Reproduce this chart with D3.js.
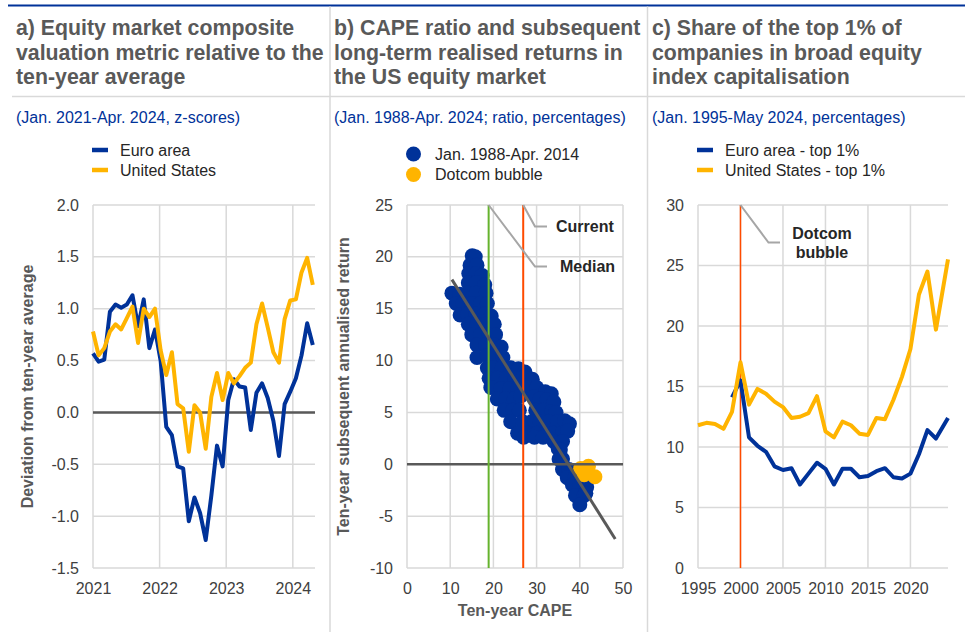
<!DOCTYPE html>
<html>
<head>
<meta charset="utf-8">
<script src="https://cdn.jsdelivr.net/npm/d3@7"></script>
<style>
  body { margin: 0; background: #fff; }
  text { font-family: "Liberation Sans", Arial, sans-serif; }
</style>
</head>
<body>
<script>
(function (d3) {
  "use strict";

  /***** Data *****/
  // panel a: monthly z-scores, Jan. 2021 - Apr. 2024
  var euroZ = [0.57, 0.49, 0.51, 0.97, 1.04, 1.01, 1.04, 1.13, 0.83, 1.09, 0.62, 0.80, 0.50, -0.14, -0.22, -0.52,
    -0.54, -1.05, -0.82, -0.97, -1.23, -0.80, -0.32, -0.52, 0.12, 0.32, 0.25, 0.24, -0.17, 0.19, 0.28, 0.14,
    -0.08, -0.42, 0.08, 0.20, 0.33, 0.55, 0.86, 0.65];
  var usZ = [0.78, 0.55, 0.62, 0.78, 0.85, 0.80, 0.91, 1.02, 0.67, 1.00, 0.92, 1.00, 0.60, 0.36, 0.58, 0.08,
    0.04, -0.38, 0.07, 0.00, -0.35, 0.15, 0.38, 0.12, 0.38, 0.28, 0.35, 0.43, 0.48, 0.85, 1.05, 0.82,
    0.58, 0.48, 0.90, 1.08, 1.09, 1.35, 1.49, 1.23];
  var zStart = 2021, zEnd = 2024.3;
  var yearTicksA = [2021, 2022, 2023, 2024];

  // panel b: [CAPE, subsequent 10y return]
  var capeHistory = [
    [15.1, 20.1], [15.8, 20.0],
    [14.6, 19.2], [16.2, 19.2],
    [14.3, 18.4], [16.0, 18.4], [17.4, 18.2],
    [14.2, 17.5], [16.0, 17.5], [18.0, 17.3],
    [10.4, 16.5], [12.2, 16.4], [14.0, 16.5], [16.0, 16.5], [18.3, 16.5],
    [11.4, 15.5], [13.0, 15.5], [15.0, 15.5], [17.0, 15.5], [18.6, 15.5],
    [12.3, 14.4], [14.0, 14.5], [16.0, 14.5], [18.0, 14.5], [19.5, 14.3],
    [14.2, 13.5], [16.2, 13.5], [18.2, 13.5], [20.2, 13.5],
    [15.0, 12.5], [17.0, 12.5], [19.0, 12.5], [20.5, 12.5],
    [16.2, 11.5], [18.2, 11.5], [20.2, 11.5], [21.8, 11.3],
    [16.2, 10.3], [18.5, 10.5], [20.5, 10.5], [22.2, 10.3],
    [18.6, 9.3], [20.0, 9.3], [22.0, 9.3], [24.0, 9.3], [25.8, 9.2], [27.3, 8.9],
    [19.0, 8.3], [21.0, 8.3], [23.0, 8.3], [25.0, 8.3], [27.0, 8.4], [29.0, 8.2],
    [19.4, 7.4], [21.8, 7.3], [23.8, 7.3], [25.6, 7.3], [28.0, 7.4], [30.0, 7.4], [32.0, 7.0], [33.4, 6.8],
    [20.9, 6.3], [22.8, 6.3], [24.8, 6.3], [26.3, 6.6], [29.4, 6.5], [30.8, 6.3], [32.4, 6.2], [34.0, 6.0],
    [22.5, 5.2], [24.5, 5.2], [26.0, 5.2], [29.8, 5.2], [31.5, 5.2], [33.5, 5.1], [34.5, 5.0],
    [24.0, 4.1], [26.8, 4.1], [28.8, 4.1], [30.8, 4.1], [32.8, 4.1], [34.8, 4.1], [36.5, 4.2], [37.6, 3.9],
    [25.6, 3.0], [28.0, 3.0], [30.0, 3.0], [32.0, 3.0], [34.0, 3.0], [36.0, 3.0], [37.2, 3.2],
    [27.0, 2.6], [29.5, 2.6], [31.5, 2.6], [34.0, 2.2], [36.0, 2.2],
    [35.0, 1.5], [35.5, 1.4],
    [35.2, 0.5], [36.0, 0.5],
    [36.0, -0.5], [37.5, -0.5], [39.0, -0.6],
    [37.1, -1.3], [38.8, -1.3],
    [38.3, -2.0], [40.0, -2.0], [41.6, -2.2],
    [39.0, -3.0], [41.0, -3.0], [41.4, -2.8],
    [40.0, -3.9]
  ];
  var capeDotcom = [[40.2, -0.4], [41.3, -0.4], [42.0, -0.2], [43.5, -1.2], [41.0, -1.0]];
  var capeFit = [[10.4, 17.8], [48.2, -7.2]];
  var capeMedian = 18.9;
  var capeCurrent = 26.9;

  // panel c: annual shares, 1995 - May 2024
  var yearsC = [1995, 1996, 1997, 1998, 1999, 2000, 2001, 2002, 2003, 2004, 2005, 2006, 2007, 2008, 2009,
    2010, 2011, 2012, 2013, 2014, 2015, 2016, 2017, 2018, 2019, 2020, 2021, 2022, 2023, 2024.42];
  var usTop = [11.8, 12.0, 11.9, 11.5, 12.9, 17.0, 13.5, 14.8, 14.4, 13.75, 13.3, 12.4, 12.5, 12.8, 14.2,
    11.3, 10.8, 12.1, 11.8, 11.1, 11.0, 12.4, 12.3, 13.9, 15.8, 18.1, 22.6, 24.5, 19.7, 25.5];
  var euroTop = [null, null, null, null, 14.1, 15.5, 10.8, 10.1, 9.6, 8.4, 8.1, 8.25, 6.9, 7.8, 8.7,
    8.2, 6.9, 8.2, 8.2, 7.5, 7.6, 8.0, 8.25, 7.5, 7.4, 7.8, 9.4, 11.4, 10.7, 12.4];
  var dotcomYear = 2000;

  /***** Styling *****/
  var BLUE = "#003299", YELLOW = "#ffb400", GRID = "#d9d9d9", DARK = "#595959";
  var TICK = "#404040", LEADER = "#a6a6a6";
  var top = 205, bottom = 568;

  var svg = d3.select("body").append("svg")
    .attr("width", 965)
    .attr("height", 641);

  // frame
  svg.append("line").attr("x1", 8).attr("x2", 965).attr("y1", 5.5).attr("y2", 5.5)
    .attr("stroke", BLUE).attr("stroke-width", 2);
  svg.append("line").attr("x1", 12).attr("x2", 965).attr("y1", 96.5).attr("y2", 96.5)
    .attr("stroke", GRID).attr("stroke-width", 1.5);
  [330, 647.5].forEach(function (x) {
    svg.append("line").attr("x1", x).attr("x2", x).attr("y1", 6.5).attr("y2", 632)
      .attr("stroke", GRID).attr("stroke-width", 1.5);
  });

  function header(x, lines, sub) {
    var t = svg.append("text").attr("x", x).attr("y", 35)
      .attr("fill", DARK).attr("font-weight", "bold").attr("font-size", "21.3px");
    lines.forEach(function (l, i) {
      t.append("tspan").attr("x", x).attr("y", 35 + i * 24.5).text(l);
    });
    svg.append("text").attr("x", x).attr("y", 123).attr("fill", BLUE)
      .attr("font-size", "16px").text(sub);
  }
  header(16, ["a) Equity market composite", "valuation metric relative to the", "ten-year average"],
    "(Jan. 2021-Apr. 2024, z-scores)");
  header(334, ["b) CAPE ratio and subsequent", "long-term realised returns in", "the US equity market"],
    "(Jan. 1988-Apr. 2024; ratio, percentages)");
  header(652, ["c) Share of the top 1% of", "companies in broad equity", "index capitalisation"],
    "(Jan. 1995-May 2024, percentages)");

  function lineLegend(x, y, items) {
    items.forEach(function (it, i) {
      svg.append("line").attr("x1", x).attr("x2", x + 16)
        .attr("y1", y + i * 20).attr("y2", y + i * 20)
        .attr("stroke", it.color).attr("stroke-width", 4.5);
      svg.append("text").attr("x", x + 28).attr("y", y + i * 20 + 5.5)
        .attr("font-size", "16px").attr("fill", "#262626").text(it.label);
    });
  }

  function grid(g, x, y, xs, ys) {
    g.selectAll("line.h").data(ys).join("line").attr("class", "h")
      .attr("x1", x.range()[0]).attr("x2", x.range()[1])
      .attr("y1", function (d) { return y(d); }).attr("y2", function (d) { return y(d); })
      .attr("stroke", GRID).attr("stroke-width", 1.5);
    g.selectAll("line.v").data(xs).join("line").attr("class", "v")
      .attr("x1", function (d) { return x(d); }).attr("x2", function (d) { return x(d); })
      .attr("y1", top).attr("y2", bottom)
      .attr("stroke", GRID).attr("stroke-width", 1.5);
  }

  function axes(x, y, xs, ys, fmtY) {
    var xa = d3.axisBottom(x).tickValues(xs).tickSize(0).tickPadding(0).tickFormat(d3.format("d"));
    var ya = d3.axisLeft(y).tickValues(ys).tickSize(0).tickPadding(14).tickFormat(fmtY);
    var gx = svg.append("g").attr("transform", "translate(0," + (bottom + 20) + ")").call(xa);
    var gy = svg.append("g").attr("transform", "translate(" + x.range()[0] + ",0)").call(ya);
    [gx, gy].forEach(function (g) {
      g.select(".domain").remove();
      g.selectAll("text").attr("font-size", "16px").attr("fill", TICK)
        .style("font-family", '"Liberation Sans", Arial, sans-serif');
    });
    gx.selectAll("text").attr("dy", "0.35em");
  }

  function yTitle(x, label) {
    svg.append("text")
      .attr("transform", "translate(" + x + "," + ((top + bottom) / 2) + ") rotate(-90)")
      .attr("text-anchor", "middle").attr("font-size", "16px").attr("font-weight", "bold")
      .attr("fill", DARK).text(label);
  }

  /***** Panel a *****/
  var xA = d3.scaleLinear().domain([zStart, 2024.333]).range([93, 315]);
  var yA = d3.scaleLinear().domain([-1.5, 2]).range([bottom, top]);
  var ticksA = d3.range(-1.5, 2.01, 0.5);
  var gA = svg.append("g");
  grid(gA, xA, yA, yearTicksA, ticksA);
  gA.append("line").attr("x1", 93).attr("x2", 315).attr("y1", yA(0)).attr("y2", yA(0))
    .attr("stroke", DARK).attr("stroke-width", 2.5);
  var tA = function (i) { return zStart + i * (zEnd - zStart) / (euroZ.length - 1); };
  var lineA = d3.line().x(function (d, i) { return xA(tA(i)); }).y(function (d) { return yA(d); });
  [[euroZ, BLUE], [usZ, YELLOW]].forEach(function (s) {
    gA.append("path").datum(s[0]).attr("d", lineA).attr("fill", "none")
      .attr("stroke", s[1]).attr("stroke-width", 4).attr("stroke-linejoin", "round");
  });
  axes(xA, yA, yearTicksA, ticksA, function (d) { return d.toFixed(1); });
  yTitle(33, "Deviation from ten-year average");
  lineLegend(92, 150, [{ label: "Euro area", color: BLUE }, { label: "United States", color: YELLOW }]);

  /***** Panel b *****/
  var xB = d3.scaleLinear().domain([0, 50]).range([407, 623]);
  var yB = d3.scaleLinear().domain([-10, 25]).range([bottom, top]);
  var gB = svg.append("g");
  grid(gB, xB, yB, d3.range(0, 51, 10), d3.range(-10, 26, 5));
  gB.selectAll("circle.hist").data(capeHistory).join("circle").attr("class", "hist")
    .attr("cx", function (d) { return xB(d[0]); }).attr("cy", function (d) { return yB(d[1]); })
    .attr("r", 7.5).attr("fill", BLUE);
  gB.selectAll("circle.dot").data(capeDotcom).join("circle").attr("class", "dot")
    .attr("cx", function (d) { return xB(d[0]); }).attr("cy", function (d) { return yB(d[1]); })
    .attr("r", 7.5).attr("fill", YELLOW);
  gB.append("line").attr("x1", 407).attr("x2", 623).attr("y1", yB(0)).attr("y2", yB(0))
    .attr("stroke", DARK).attr("stroke-width", 2.5);
  gB.append("line").attr("x1", xB(capeMedian)).attr("x2", xB(capeMedian)).attr("y1", top).attr("y2", bottom)
    .attr("stroke", "#65b32e").attr("stroke-width", 2);
  gB.append("line").attr("x1", xB(capeCurrent)).attr("x2", xB(capeCurrent)).attr("y1", top).attr("y2", bottom)
    .attr("stroke", "#ff4b00").attr("stroke-width", 2);
  gB.append("path").datum(capeFit)
    .attr("d", d3.line().x(function (d) { return xB(d[0]); }).y(function (d) { return yB(d[1]); }))
    .attr("stroke", DARK).attr("stroke-width", 3).attr("fill", "none");
  // annotations
  gB.append("path").attr("fill", "none").attr("stroke", LEADER).attr("stroke-width", 2)
    .attr("d", "M" + xB(capeCurrent) + "," + top + "L535,226.5H547");
  gB.append("path").attr("fill", "none").attr("stroke", LEADER).attr("stroke-width", 2)
    .attr("d", "M" + xB(capeMedian) + "," + top + "L535,266.5H547");
  gB.append("text").attr("x", 556).attr("y", 232).attr("font-size", "16px").attr("font-weight", "bold")
    .attr("fill", "#262626").text("Current");
  gB.append("text").attr("x", 560).attr("y", 272).attr("font-size", "16px").attr("font-weight", "bold")
    .attr("fill", "#262626").text("Median");
  axes(xB, yB, d3.range(0, 51, 10), d3.range(-10, 26, 5), function (d) { return String(d); });
  yTitle(349, "Ten-year subsequent annualised return");
  svg.append("text").attr("x", 515).attr("y", 616).attr("text-anchor", "middle")
    .attr("font-size", "16px").attr("font-weight", "bold").attr("fill", DARK).text("Ten-year CAPE");
  [[BLUE, "Jan. 1988-Apr. 2014"], [YELLOW, "Dotcom bubble"]].forEach(function (it, i) {
    svg.append("circle").attr("cx", 413.5).attr("cy", 154 + i * 20.5).attr("r", 7.5).attr("fill", it[0]);
    svg.append("text").attr("x", 435).attr("y", 159.5 + i * 20.5).attr("font-size", "16px")
      .attr("fill", "#262626").text(it[1]);
  });

  /***** Panel c *****/
  var xC = d3.scaleLinear().domain([1995, 2024.42]).range([698, 948]);
  var yC = d3.scaleLinear().domain([0, 30]).range([bottom, top]);
  var xsC = d3.range(1995, 2021, 5);
  var gC = svg.append("g");
  grid(gC, xC, yC, xsC, d3.range(0, 31, 5));
  gC.append("line").attr("x1", xC(dotcomYear)).attr("x2", xC(dotcomYear)).attr("y1", top).attr("y2", bottom)
    .attr("stroke", "#ff4b00").attr("stroke-width", 1.5);
  var lineC = function (vals) {
    return d3.line().defined(function (d, i) { return vals[i] !== null; })
      .x(function (d, i) { return xC(yearsC[i]); }).y(function (d, i) { return yC(vals[i]); })(vals);
  };
  [[euroTop, BLUE], [usTop, YELLOW]].forEach(function (s) {
    gC.append("path").attr("d", lineC(s[0])).attr("fill", "none")
      .attr("stroke", s[1]).attr("stroke-width", 4).attr("stroke-linejoin", "round");
  });
  gC.append("path").attr("fill", "none").attr("stroke", LEADER).attr("stroke-width", 2)
    .attr("d", "M" + xC(dotcomYear) + "," + top + "L768.5,242.5H780");
  var dt = gC.append("text").attr("text-anchor", "middle").attr("font-size", "16px")
    .attr("font-weight", "bold").attr("fill", "#262626");
  dt.append("tspan").attr("x", 822).attr("y", 239).text("Dotcom");
  dt.append("tspan").attr("x", 822).attr("y", 257.5).text("bubble");
  axes(xC, yC, xsC, d3.range(0, 31, 5), function (d) { return String(d); });
  lineLegend(697, 150, [{ label: "Euro area - top 1%", color: BLUE }, { label: "United States - top 1%", color: YELLOW }]);

})(d3);
</script>
</body>
</html>
